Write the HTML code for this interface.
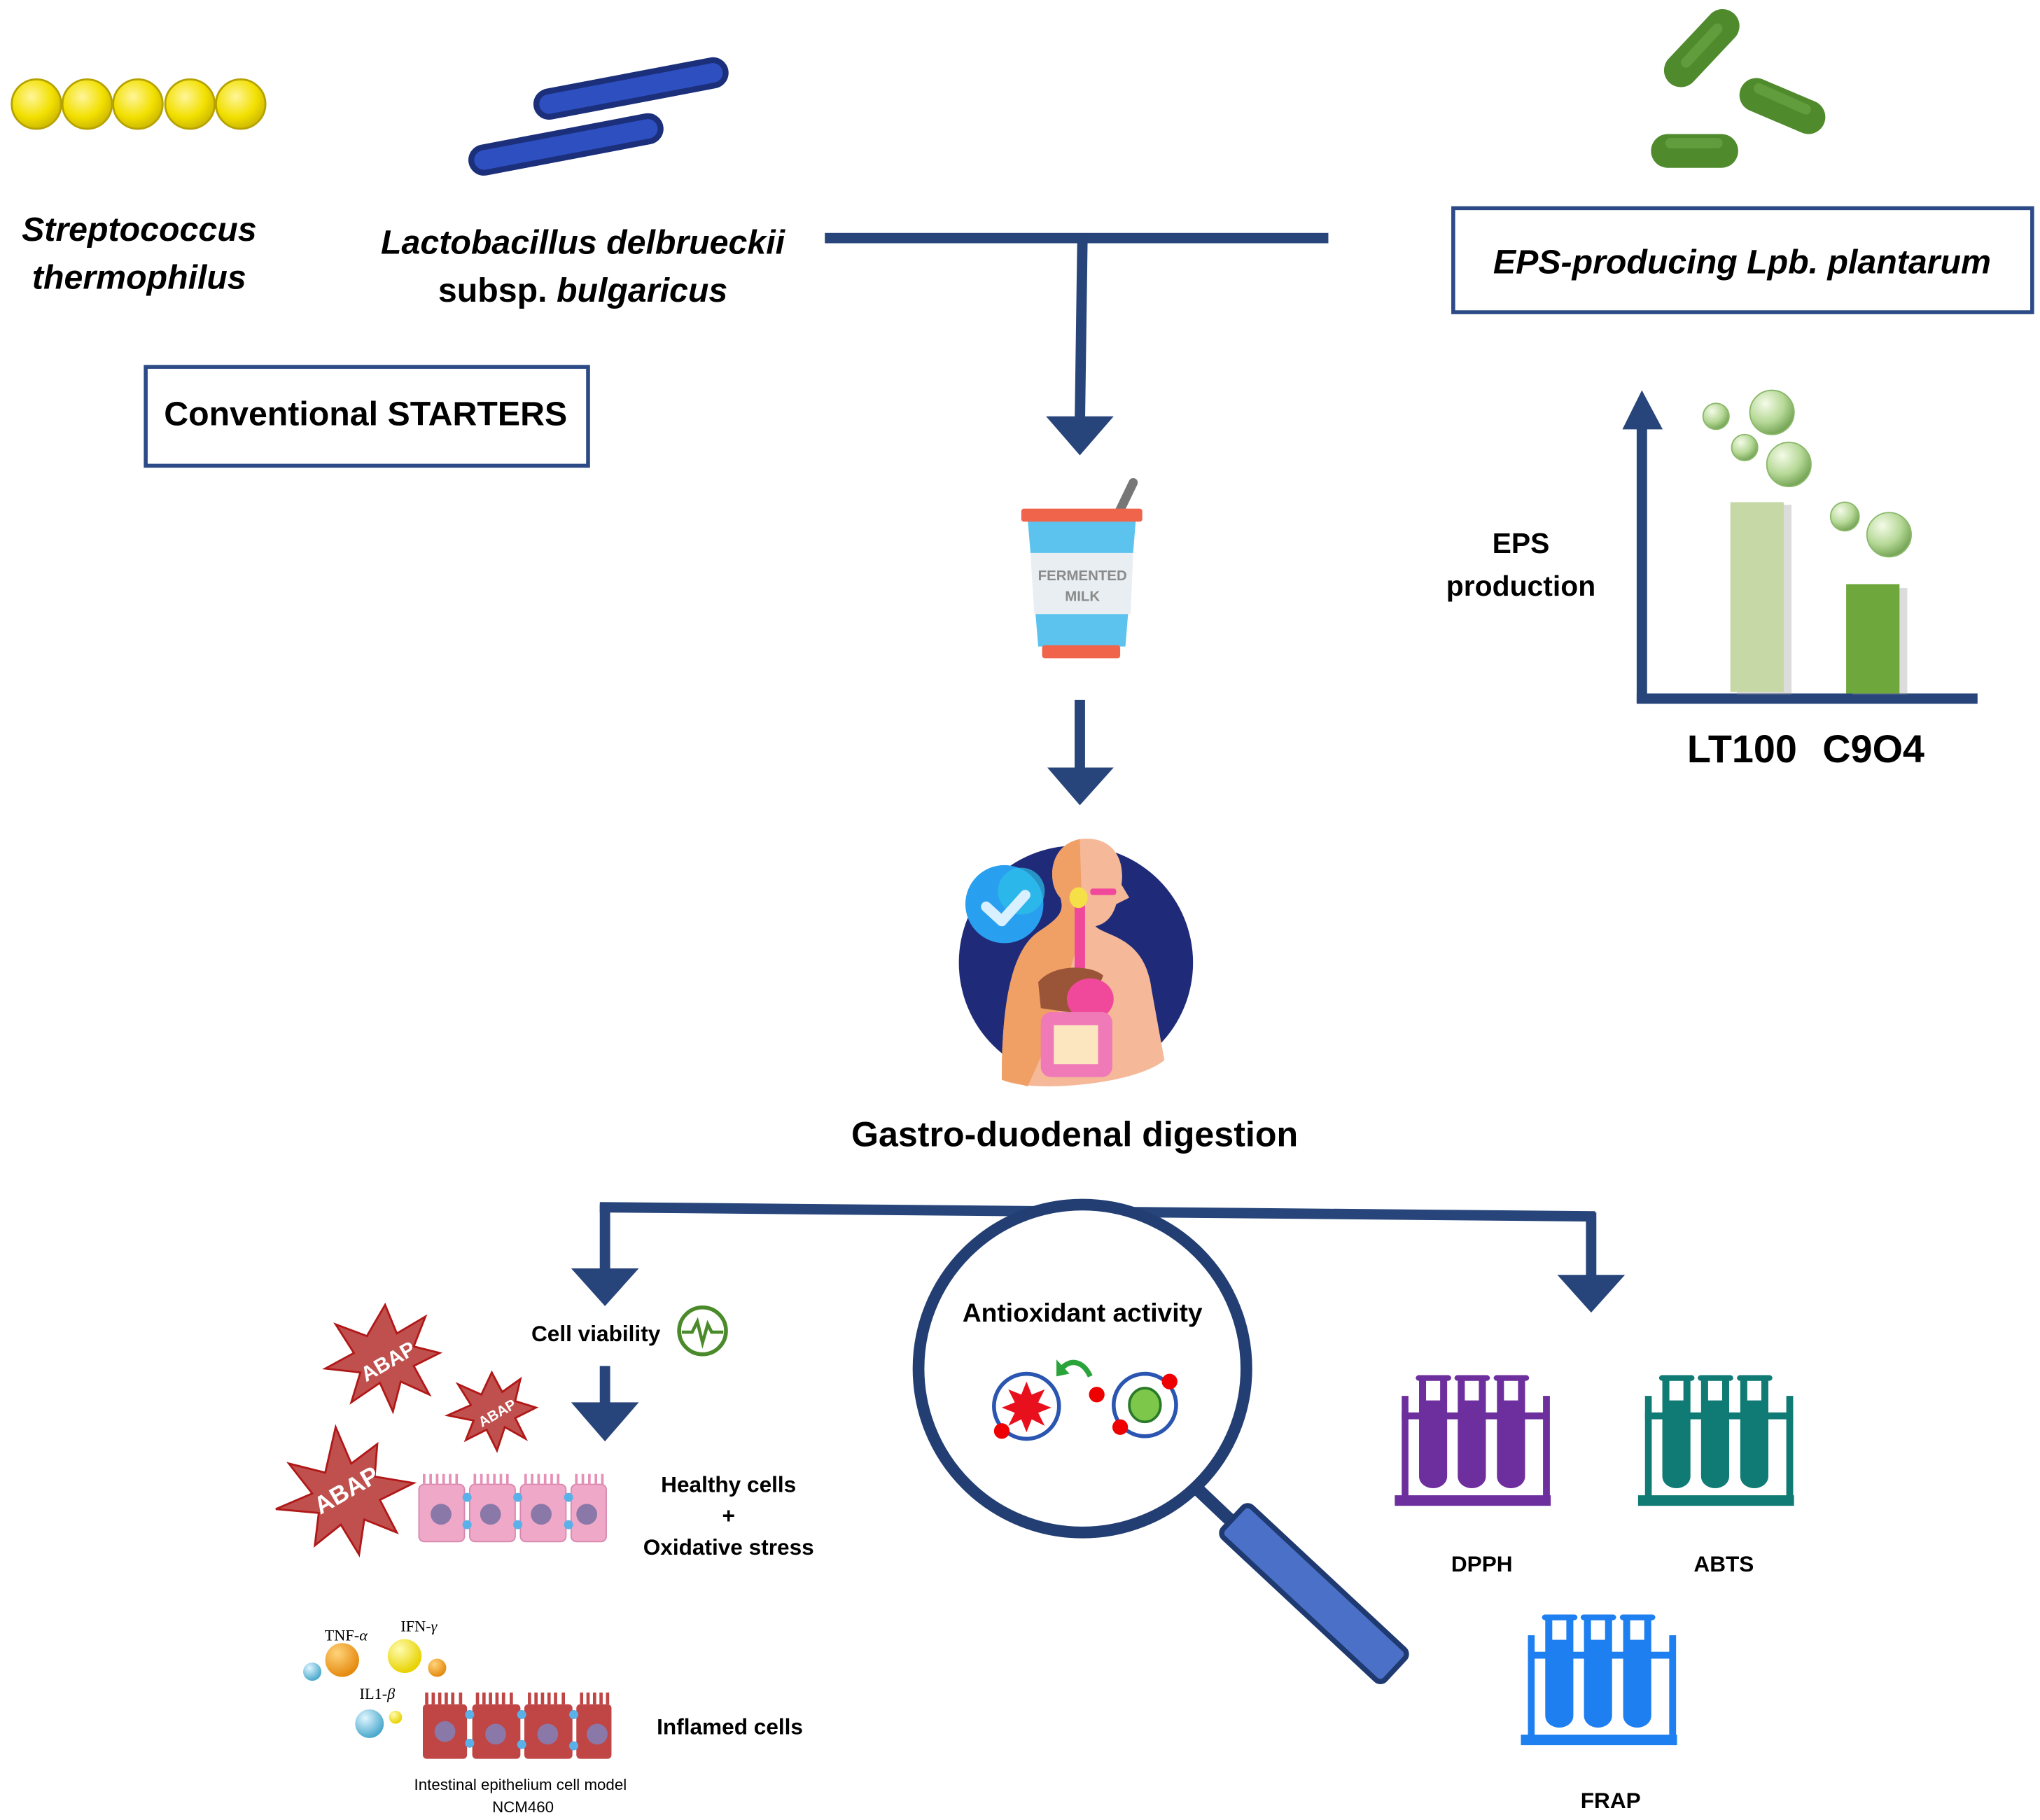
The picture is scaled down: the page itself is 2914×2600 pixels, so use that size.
<!DOCTYPE html>
<html><head><meta charset="utf-8"><style>
html,body{margin:0;padding:0;background:#fff}
svg{display:block}
text{font-family:"Liberation Sans",sans-serif;font-weight:bold;fill:#000}
</style></head><body>
<svg width="2914" height="2600" viewBox="0 0 1568 1399" xmlns="http://www.w3.org/2000/svg">
<defs>
<radialGradient id="gy" cx="0.4" cy="0.35" r="0.7"><stop offset="0" stop-color="#fff59a"/><stop offset="0.6" stop-color="#f2e000"/><stop offset="1" stop-color="#c9b400"/></radialGradient>
<radialGradient id="gb" cx="0.35" cy="0.3" r="0.7"><stop offset="0" stop-color="#f4fbe8"/><stop offset="0.6" stop-color="#b7d998"/><stop offset="1" stop-color="#79a85a"/></radialGradient>
<radialGradient id="go" cx="0.35" cy="0.3" r="0.7"><stop offset="0" stop-color="#ffd47a"/><stop offset="1" stop-color="#e58a10"/></radialGradient>
<radialGradient id="gy2" cx="0.35" cy="0.3" r="0.7"><stop offset="0" stop-color="#fffcb0"/><stop offset="1" stop-color="#e8d200"/></radialGradient>
<radialGradient id="gc" cx="0.35" cy="0.3" r="0.7"><stop offset="0" stop-color="#e0f6ff"/><stop offset="1" stop-color="#4aa8cc"/></radialGradient>
<symbol id="rack" viewBox="0 0 100 101" preserveAspectRatio="none">
<rect x="0" y="92.4" width="100" height="8.1"/>
<rect x="4.5" y="16" width="4.3" height="78"/>
<rect x="95" y="16" width="4.4" height="78"/>
<rect x="4.5" y="28.7" width="94.5" height="5.3"/>
<g id="tube">
<rect x="13.5" y="0" width="22.7" height="4.5" rx="2.2"/>
<path d="M15.6 3 H33.6 V78 A9 9 0 0 1 15.6 78 Z"/>
<rect x="20.1" y="4.5" width="9" height="15" fill="#fff"/>
</g>
<use href="#tube" x="24.8"/>
<use href="#tube" x="49.9"/>
</symbol>
</defs>

<!-- yellow cocci -->
<g stroke="#b5a200" stroke-width="1.5" fill="url(#gy)">
<circle cx="28" cy="80" r="19"/><circle cx="67" cy="80" r="19"/><circle cx="106" cy="80" r="19"/><circle cx="146" cy="80" r="19"/><circle cx="185" cy="80" r="19"/>
</g>
<!-- blue rods -->
<g stroke-linecap="round">
<line x1="422" y1="80" x2="548" y2="56" stroke="#1b2f7a" stroke-width="24"/>
<line x1="422" y1="80" x2="548" y2="56" stroke="#2d4fbf" stroke-width="15"/>
<line x1="372" y1="123" x2="498" y2="99" stroke="#1b2f7a" stroke-width="24"/>
<line x1="372" y1="123" x2="498" y2="99" stroke="#2d4fbf" stroke-width="15"/>
</g>
<!-- green rods -->
<g stroke-linecap="round" stroke-width="26">
<line x1="1292" y1="54" x2="1324" y2="20" stroke="#4f8a2c"/>
<line x1="1350" y1="73" x2="1390" y2="90" stroke="#4f8a2c"/>
<line x1="1282" y1="116" x2="1323" y2="116" stroke="#4f8a2c"/>
</g>
<g stroke-linecap="round" stroke-width="8" stroke="#6aa644" opacity="0.7">
<line x1="1296" y1="48" x2="1320" y2="22"/><line x1="1352" y1="68" x2="1388" y2="84"/><line x1="1284" y1="110" x2="1320" y2="110"/>
</g>

<text x="107" y="185" font-size="26" font-style="italic" text-anchor="middle">Streptococcus</text>
<text x="107" y="222" font-size="26" font-style="italic" text-anchor="middle">thermophilus</text>
<text x="448" y="195" font-size="26" font-style="italic" text-anchor="middle">Lactobacillus delbrueckii</text>
<text x="448" y="232" font-size="26" text-anchor="middle">subsp. <tspan font-style="italic">bulgaricus</tspan></text>

<rect x="112" y="282" width="340" height="76" fill="none" stroke="#2b4a86" stroke-width="3"/>
<text x="281" y="327" font-size="26" text-anchor="middle">Conventional STARTERS</text>

<rect x="1117" y="160" width="445" height="80" fill="none" stroke="#2b4a86" stroke-width="3"/>
<text x="1339" y="210" font-size="26" font-style="italic" text-anchor="middle">EPS-producing Lpb. plantarum</text>

<!-- top connector -->
<g fill="#27457a" stroke="#27457a">
<line x1="634" y1="183" x2="1021" y2="183" stroke-width="8"/>
<line x1="832" y1="183" x2="830" y2="325" stroke-width="8"/>
<polygon points="804,320 856,320 830,350" stroke="none"/>
<line x1="830" y1="538" x2="830" y2="595" stroke-width="8"/>
<polygon points="805,590 856,590 830,619" stroke="none"/>
</g>

<!-- chart -->
<g fill="#27457a">
<rect x="1258" y="322" width="8" height="218"/>
<polygon points="1247,330 1278,330 1262,300"/>
<rect x="1258" y="533" width="262" height="8"/>
</g>
<rect x="1335" y="388" width="42" height="146" fill="#9a9a9a" opacity="0.35"/>
<rect x="1330" y="386" width="41" height="146" fill="#c6d8a6"/>
<rect x="1424" y="452" width="42" height="82" fill="#9a9a9a" opacity="0.35"/>
<rect x="1419" y="449" width="41" height="84" fill="#6ea73b"/>
<g fill="url(#gb)" stroke="#8ab86a" stroke-width="1">
<circle cx="1319" cy="320" r="10"/><circle cx="1362" cy="317" r="17"/><circle cx="1341" cy="344" r="10"/><circle cx="1375" cy="357" r="17"/><circle cx="1418" cy="397" r="11"/><circle cx="1452" cy="411" r="17"/>
</g>
<text x="1169" y="425" font-size="22" text-anchor="middle">EPS</text>
<text x="1169" y="458" font-size="22" text-anchor="middle">production</text>
<text x="1339" y="586" font-size="30" text-anchor="middle">LT100</text>
<text x="1440" y="586" font-size="30" text-anchor="middle">C9O4</text>

<!-- yogurt -->
<line x1="858" y1="398" x2="871" y2="371" stroke="#777" stroke-width="7" stroke-linecap="round"/>
<polygon points="790,400 873,400 865,497 798,497" fill="#5cc3ef"/>
<rect x="785" y="391" width="93" height="10" rx="2" fill="#f0644c"/>
<rect x="801" y="496" width="60" height="10" rx="2" fill="#f0644c"/>
<polygon points="792,425 871,425 869,472 795,472" fill="#e8eef2"/>
<text x="832" y="446" font-size="11" text-anchor="middle" style="fill:#8a8a8a">FERMENTED</text>
<text x="832" y="462" font-size="11" text-anchor="middle" style="fill:#8a8a8a">MILK</text>

<!-- digestion icon -->
<circle cx="827" cy="740" r="90" fill="#1f2b78"/>
<path d="M770 830 C770 780 775 730 800 715 C815 705 818 700 815 690 C805 680 805 650 830 645 C855 642 865 660 862 680 L868 690 L858 695 C855 705 850 710 842 712 C850 720 880 720 885 760 L895 815 C870 835 790 840 770 830Z" fill="#f5b898"/>
<path d="M770 830 C770 780 775 730 800 715 C815 705 818 700 815 690 C805 680 805 650 830 645 L832 712 L810 790 L790 835Z" fill="#f0a064"/>
<rect x="826" y="685" width="8" height="60" fill="#f0489a"/>
<ellipse cx="829" cy="690" rx="7" ry="8" fill="#f5e048"/>
<rect x="838" y="683" width="20" height="5" rx="2" fill="#f0489a"/>
<path d="M798 755 C810 740 840 742 848 750 L835 780 L800 775Z" fill="#9a5538"/>
<ellipse cx="838" cy="768" rx="18" ry="16" fill="#f0489a"/>
<rect x="800" y="778" width="55" height="50" rx="8" fill="#f07ab8"/>
<rect x="810" y="788" width="34" height="30" fill="#fbe6c0"/>
<circle cx="772" cy="695" r="30" fill="#28a0ef"/>
<circle cx="785" cy="685" r="18" fill="#2cc0e8" opacity="0.7"/>
<polyline points="758,697 770,708 788,688" fill="none" stroke="#d8f0ff" stroke-width="8" stroke-linecap="round" stroke-linejoin="round"/>

<text x="826" y="881" font-size="27" text-anchor="middle">Gastro-duodenal digestion</text>

<!-- branch connector -->
<g fill="#27457a" stroke="#27457a">
<line x1="461" y1="928" x2="1226" y2="935" stroke-width="8"/>
<line x1="465" y1="926" x2="465" y2="980" stroke-width="8"/>
<polygon points="439,975 491,975 465,1004" stroke="none"/>
<line x1="1223" y1="932" x2="1223" y2="985" stroke-width="8"/>
<polygon points="1197,980 1249,980 1223,1009" stroke="none"/>
<line x1="465" y1="1050" x2="465" y2="1082" stroke-width="8"/>
<polygon points="439,1078 491,1078 465,1108" stroke="none"/>
</g>

<!-- magnifier -->
<g transform="rotate(43 1010 1225)">
<rect x="925" y="1209" width="170" height="32" rx="5" fill="#4a70c8" stroke="#1f3a70" stroke-width="4"/>
</g>
<line x1="905" y1="1130" x2="945" y2="1168" stroke="#233e73" stroke-width="10"/>
<circle cx="832" cy="1052" r="126" fill="#fff" stroke="#233e73" stroke-width="9"/>
<text x="832" y="1016" font-size="20" text-anchor="middle">Antioxidant activity</text>
<circle cx="789" cy="1081" r="25" fill="none" stroke="#2a55b0" stroke-width="3"/>
<polygon points="789,1062 793,1072 803,1068 798,1078 808,1082 798,1086 803,1096 793,1091 789,1101 785,1091 775,1096 780,1086 770,1082 780,1078 775,1068 785,1072" fill="#e8101c"/>
<circle cx="770" cy="1100" r="6" fill="#e00"/>
<path d="M838 1058 C832 1045 822 1045 816 1052" fill="none" stroke="#2aa33a" stroke-width="4"/>
<polygon points="812,1045 822,1056 812,1058" fill="#2aa33a"/>
<circle cx="843" cy="1072" r="6" fill="#e00"/>
<circle cx="880" cy="1080" r="24" fill="none" stroke="#2a55b0" stroke-width="3"/>
<ellipse cx="880" cy="1080" rx="12" ry="13" fill="#7dc84a" stroke="#2a7a2a" stroke-width="2"/>
<circle cx="899" cy="1062" r="6" fill="#e00"/>
<circle cx="861" cy="1097" r="6" fill="#e00"/>

<!-- cell viability -->
<text x="458" y="1031" font-size="17" text-anchor="middle">Cell viability</text>
<circle cx="540" cy="1023" r="18" fill="none" stroke="#4a8a2a" stroke-width="3"/>
<polyline points="524,1024 532,1024 536,1016 540,1032 544,1018 547,1024 556,1024" fill="none" stroke="#4a8a2a" stroke-width="2.5"/>

<!-- ABAP stars -->
<g fill="#c0504d" stroke="#b01818" stroke-width="1.5">
<polygon points="296,1003 305,1025 327,1012 318,1035 338,1040 318,1050 330,1072 308,1062 302,1085 292,1063 270,1078 277,1055 250,1052 272,1040 258,1018 282,1027"/>
<polygon points="378,1055 386,1070 400,1060 396,1077 412,1082 396,1090 404,1106 388,1097 382,1115 374,1099 358,1107 364,1092 344,1088 362,1080 352,1064 370,1072"/>
<polygon points="258,1097 270,1125 290,1110 288,1135 318,1140 292,1153 305,1178 280,1168 276,1195 262,1172 242,1188 245,1163 212,1160 240,1148 222,1125 250,1132"/>
</g>
<text x="298" y="1052" font-size="16" text-anchor="middle" transform="rotate(-30 298 1046)" style="fill:#fff">ABAP</text>
<text x="382" y="1090" font-size="11" text-anchor="middle" transform="rotate(-30 382 1086)" style="fill:#fff">ABAP</text>
<text x="266" y="1152" font-size="19" text-anchor="middle" transform="rotate(-30 266 1145)" style="fill:#fff">ABAP</text>

<!-- healthy cells -->
<g fill="#f0a8c8" stroke="#d888b0" stroke-width="1">
<rect x="322" y="1141" width="35" height="44" rx="4"/><rect x="361" y="1141" width="35" height="44" rx="4"/><rect x="400" y="1141" width="35" height="44" rx="4"/><rect x="439" y="1141" width="27" height="44" rx="4"/>
</g>
<g stroke="#e690b8" stroke-width="2">
<path d="M326 1141v-8M331 1141v-8M336 1141v-8M341 1141v-8M346 1141v-8M351 1141v-8M365 1141v-8M370 1141v-8M375 1141v-8M380 1141v-8M385 1141v-8M390 1141v-8M404 1141v-8M409 1141v-8M414 1141v-8M419 1141v-8M424 1141v-8M429 1141v-8M443 1141v-8M448 1141v-8M453 1141v-8M458 1141v-8M463 1141v-8"/>
</g>
<g fill="#8a78a8"><circle cx="339" cy="1164" r="8"/><circle cx="377" cy="1164" r="8"/><circle cx="416" cy="1164" r="8"/><circle cx="451" cy="1164" r="8"/></g>
<g fill="#5ab0e8"><circle cx="359" cy="1151" r="3.5"/><circle cx="359" cy="1172" r="3.5"/><circle cx="398" cy="1151" r="3.5"/><circle cx="398" cy="1172" r="3.5"/><circle cx="437" cy="1151" r="3.5"/><circle cx="437" cy="1172" r="3.5"/></g>
<text x="560" y="1147" font-size="17" text-anchor="middle">Healthy cells</text>
<text x="560" y="1171" font-size="17" text-anchor="middle">+</text>
<text x="560" y="1195" font-size="17" text-anchor="middle">Oxidative stress</text>

<!-- inflamed -->
<text x="266" y="1261" font-size="12" text-anchor="middle" style="font-family:'Liberation Serif',serif;font-weight:normal">TNF-<tspan font-style="italic">α</tspan></text>
<text x="322" y="1254" font-size="12" text-anchor="middle" style="font-family:'Liberation Serif',serif;font-weight:normal">IFN-<tspan font-style="italic">γ</tspan></text>
<text x="290" y="1306" font-size="12" text-anchor="middle" style="font-family:'Liberation Serif',serif;font-weight:normal">IL1-<tspan font-style="italic">β</tspan></text>
<circle cx="240" cy="1285" r="7" fill="url(#gc)"/>
<circle cx="263" cy="1276" r="13" fill="url(#go)"/>
<circle cx="311" cy="1273" r="13" fill="url(#gy2)"/>
<circle cx="336" cy="1282" r="7" fill="url(#go)"/>
<circle cx="284" cy="1325" r="11" fill="url(#gc)"/>
<circle cx="304" cy="1320" r="5" fill="url(#gy2)"/>
<g fill="#c04545">
<rect x="325" y="1310" width="34" height="42" rx="3"/><rect x="363" y="1310" width="37" height="42" rx="3"/><rect x="403" y="1310" width="37" height="42" rx="3"/><rect x="443" y="1310" width="27" height="42" rx="3"/>
</g>
<g stroke="#c04545" stroke-width="2.5">
<path d="M328 1310v-9M333 1310v-9M338 1310v-9M343 1310v-9M348 1310v-9M354 1310v-9M367 1310v-9M372 1310v-9M377 1310v-9M382 1310v-9M387 1310v-9M393 1310v-9M407 1310v-9M412 1310v-9M417 1310v-9M422 1310v-9M427 1310v-9M433 1310v-9M447 1310v-9M452 1310v-9M457 1310v-9M462 1310v-9M467 1310v-9"/>
</g>
<g fill="#8a78a8"><circle cx="342" cy="1331" r="8"/><circle cx="381" cy="1333" r="8"/><circle cx="421" cy="1333" r="8"/><circle cx="459" cy="1333" r="8"/></g>
<g fill="#5ab0e8"><circle cx="361" cy="1318" r="3.5"/><circle cx="361" cy="1340" r="3.5"/><circle cx="401" cy="1318" r="3.5"/><circle cx="401" cy="1341" r="3.5"/><circle cx="441" cy="1318" r="3.5"/><circle cx="441" cy="1342" r="3.5"/></g>
<text x="561" y="1333" font-size="17" text-anchor="middle">Inflamed cells</text>
<text x="400" y="1376" font-size="12" text-anchor="middle" style="font-weight:normal">Intestinal epithelium cell model</text>
<text x="402" y="1393" font-size="12" text-anchor="middle" style="font-weight:normal">NCM460</text>

<!-- test tubes -->
<use href="#rack" x="1072" y="1057" width="120" height="101" fill="#6e2f9e"/>
<use href="#rack" x="1259" y="1057" width="120" height="101" fill="#0f7b74"/>
<use href="#rack" x="1169" y="1241" width="120" height="101" fill="#1e7ff0"/>
<text x="1139" y="1208" font-size="17" text-anchor="middle">DPPH</text>
<text x="1325" y="1208" font-size="17" text-anchor="middle">ABTS</text>
<text x="1238" y="1390" font-size="17" text-anchor="middle">FRAP</text>
</svg>
</body></html>
